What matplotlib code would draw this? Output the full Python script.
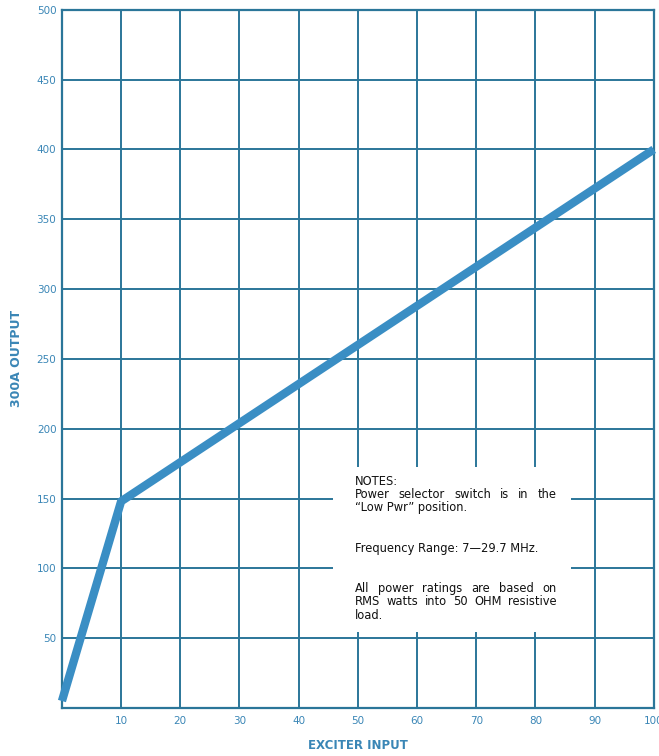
import matplotlib.pyplot as plt
from matplotlib.patches import Rectangle

# values
exciter_in = [0, 10, 100]
output_300a = [5, 148, 400]
x_ticks = [10, 20, 30, 40, 50, 60, 70, 80, 90, 100]
y_ticks = [50, 100, 150, 200, 250, 300, 350, 400, 450, 500]
# (text, justified?)
notes = [
    ("NOTES:", False),
    ("Power selector switch is in the", True),
    ("\u201cLow Pwr\u201d position.", False),
    ("", False),
    ("", False),
    ("Frequency Range: 7\u201429.7 MHz.", False),
    ("", False),
    ("", False),
    ("All power ratings are based on", True),
    ("RMS watts into 50 OHM resistive", True),
    ("load.", False),
]

GRID = '#2b7699'
LINE = '#3a8ec4'
TEXT = '#3a86b6'

plt.rcParams['font.family'] = ['DejaVu Sans']

fig = plt.figure(figsize=(6.59, 7.56), dpi=100)
ax = fig.add_axes([0.094, 0.0635, 0.898, 0.9235])

ax.set_xlim(0, 100)
ax.set_ylim(0, 500)
ax.set_xticks(x_ticks)
ax.set_yticks(y_ticks)
ax.grid(True, color=GRID, lw=1.4)
for s in ax.spines.values():
    s.set_color(GRID)
    s.set_linewidth(1.6)
ax.tick_params(length=0, labelsize=7.5, labelcolor=TEXT)
ax.tick_params(axis='y', pad=4)
ax.tick_params(axis='x', pad=6)

# white patch behind the notes
ax.add_patch(Rectangle((45.8, 54.5), 40.3, 118, facecolor='white',
                       edgecolor='none', zorder=2))

ax.plot(exciter_in, output_300a, color=LINE, lw=6, solid_capstyle='butt',
        zorder=3, clip_on=False)

# notes, justified lines spread over the full width
x0, x1 = 49.5, 83.6
fs = 8.3
renderer = fig.canvas.get_renderer()
px_per_unit = ax.transData.transform((1, 0))[0] - ax.transData.transform((0, 0))[0]
y = 160
for line, just in notes:
    if line and just:
        words = line.split()
        items = [ax.text(0, y, w, fontsize=fs, color='#111111', va='baseline',
                         zorder=4) for w in words]
        widths = [t.get_window_extent(renderer).width / px_per_unit for t in items]
        gap = (x1 - x0 - sum(widths)) / (len(words) - 1)
        xx = x0
        for t, w in zip(items, widths):
            t.set_x(xx)
            xx += w + gap
    elif line:
        ax.text(x0, y, line, fontsize=fs, color='#111111', va='baseline',
                zorder=4)
    y -= 9.6

ax.set_xlabel('EXCITER INPUT', fontsize=8.5, color=TEXT, fontweight='bold',
              labelpad=9)
ax.set_ylabel('300A OUTPUT', fontsize=9, color=TEXT, fontweight='bold',
              labelpad=10)

fig.savefig('out.png', dpi=100)
